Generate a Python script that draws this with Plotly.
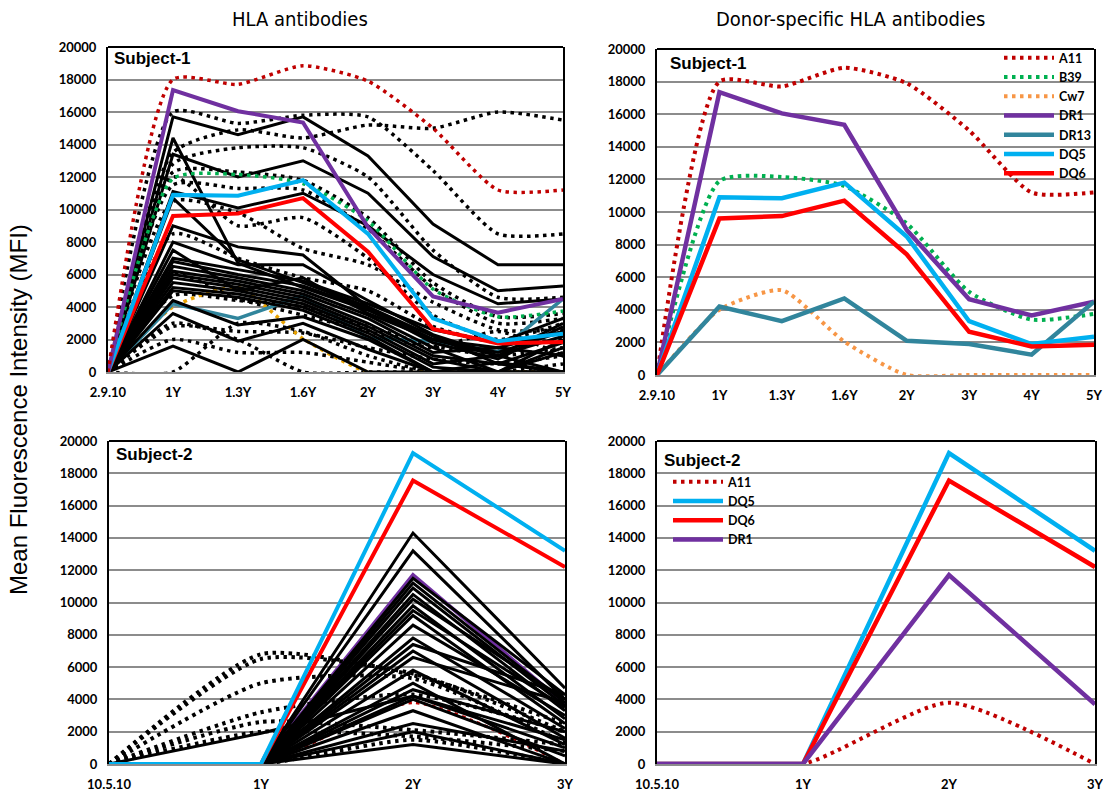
import plotly.graph_objects as go

W, H = 1103, 794


def px(x):
    return x / W


def py(y):
    return 1 - y / H


# ---------------- categories ----------------
CAT_S1 = ["2.9.10", "1Y", "1.3Y", "1.6Y", "2Y", "3Y", "4Y", "5Y"]
CAT_S2 = ["10.5.10", "1Y", "2Y", "3Y"]
Y_TICKS = [0, 2000, 4000, 6000, 8000, 10000, 12000, 14000, 16000, 18000, 20000]

# ---------------- Subject-1 donor-specific antibodies ----------------
S1_A11 = [0, 18000, 17700, 18850, 17900, 15000, 11200, 11200]
S1_B39 = [0, 11900, 12150, 11600, 9300, 5100, 3400, 3750]
S1_CW7 = [0, 4000, 5200, 2050, 0, 0, 0, 0]
S1_DR1 = [0, 17350, 16050, 15350, 8900, 4650, 3650, 4500]
S1_DR13 = [0, 4200, 3300, 4700, 2100, 1900, 1250, 4500]
S1_DQ5 = [0, 10900, 10850, 11800, 8500, 3300, 1900, 2350]
S1_DQ6 = [0, 9600, 9750, 10700, 7400, 2650, 1750, 1850]

# ---------------- Subject-1 other HLA antibodies (black) ----------------
S1_BLACK_SOLID = [
    [0, 15700, 14600, 15700, 13300, 9100, 6600, 6600],
    [0, 13400, 12000, 13000, 11000, 7100, 5000, 5300],
    [0, 11100, 10100, 11000, 9000, 6000, 4200, 4500],
    [0, 14400, 6700, 5200, 3800, 2000, 1200, 2500],
    [0, 10700, 6900, 5500, 4000, 2200, 500, 1800],
    [0, 9000, 7700, 7200, 4000, 2000, 1500, 2500],
    [0, 8000, 6600, 6600, 4400, 2300, 1000, 3000],
    [0, 7500, 5000, 5800, 3600, 2000, 1000, 2200],
    [0, 7000, 6300, 5600, 4200, 2600, 1800, 3300],
    [0, 6800, 6000, 5300, 3900, 1800, 800, 2800],
    [0, 6500, 5800, 5000, 3500, 1500, 0, 2000],
    [0, 6200, 5600, 4800, 3300, 1200, 1500, 1000],
    [0, 6000, 5400, 4600, 3000, 1000, 500, 0],
    [0, 5800, 5200, 4400, 2800, 800, 0, 1500],
    [0, 5500, 5000, 4200, 2600, 500, 1000, 0],
    [0, 5200, 4800, 4000, 2400, 300, 0, 1200],
    [0, 5000, 4600, 3800, 2200, 0, 600, 0],
    [0, 4400, 2900, 3400, 2000, 0, 0, 0],
    [0, 3600, 1900, 3000, 1400, 0, 0, 0],
    [0, 1600, 0, 2000, 0, 0, 0, 0],
]
S1_BLACK_DOTTED = [
    [0, 16000, 15300, 15800, 15700, 12400, 8500, 8500],
    [0, 13500, 14900, 14400, 15200, 15000, 16000, 15500],
    [0, 12800, 13800, 13800, 12000, 7500, 4600, 4600],
    [0, 12300, 12300, 11800, 9500, 5500, 3400, 3600],
    [0, 11500, 11300, 11200, 8800, 5200, 3000, 3300],
    [0, 10500, 9800, 7600, 6600, 4300, 2600, 2600],
    [0, 12000, 9000, 9500, 7000, 3500, 2000, 3000],
    [0, 8500, 7000, 5800, 5000, 2800, 1800, 2000],
    [0, 6000, 4500, 3500, 2500, 1500, 2500, 1000],
    [0, 4700, 4400, 4000, 2800, 1600, 1000, 1500],
    [0, 2800, 2500, 2400, 1500, 800, 500, 1000],
    [0, 2000, 1200, 1200, 600, 0, 0, 500],
    [0, 0, 3000, 2500, 1000, 0, 0, 0],
    [0, 3000, 2000, 0, 0, 0, 0, 0],
]

# ---------------- Subject-2 donor-specific antibodies ----------------
S2_A11 = [0, 0, 3800, 0]
S2_DQ5 = [0, 0, 19250, 13200]
S2_DQ6 = [0, 0, 17550, 12200]
S2_DR1 = [0, 0, 11700, 3700]

# ---------------- Subject-2 other HLA antibodies (black) ----------------
S2_BLACK_SOLID = [
    [0, 0, 14300, 4700],
    [0, 0, 13200, 4000],
    [0, 0, 11500, 4300],
    [0, 0, 11200, 3800],
    [0, 0, 10900, 3600],
    [0, 0, 10500, 3300],
    [0, 0, 10200, 4000],
    [0, 0, 9800, 2800],
    [0, 0, 9500, 3500],
    [0, 0, 9200, 2500],
    [0, 0, 8600, 3000],
    [0, 0, 7800, 2200],
    [0, 0, 7400, 4300],
    [0, 0, 7000, 1600],
    [0, 0, 6600, 3800],
    [0, 0, 5800, 1200],
    [0, 0, 5000, 0],
    [0, 0, 4600, 2000],
    [0, 0, 4200, 1500],
    [0, 0, 4000, 500],
    [0, 0, 3300, 0],
    [0, 0, 2500, 800],
    [0, 0, 2000, 0],
    [0, 0, 1200, 0],
    [0, 1900, 4200, 1000],
]
S2_BLACK_DOTTED = [
    [0, 6800, 5500, 2500],
    [0, 6500, 5600, 2000],
    [0, 5000, 5300, 1300],
    [0, 3200, 4300, 2000],
    [0, 2600, 2100, 1200],
    [0, 2000, 1700, 800],
    [0, 0, 1500, 0],
]

# ---------------- styles ----------------
C_A11 = "#C00000"
C_B39 = "#00B050"
C_CW7 = "#F79646"
C_CW7_L = "#E9A300"
C_DR1 = "#7030A0"
C_DR13 = "#31859C"
C_DQ5 = "#00B0F0"
C_DQ6 = "#FF0000"
DOT = "3.5px,4.5px"
TICKFONT = dict(family="Lato, Liberation Sans, sans-serif", size=13, color="black", weight="bold")
LEGFONT = dict(family="Lato, Liberation Sans, sans-serif", size=12.5, color="black", weight="bold")

fig = go.Figure()


def add(x, y, xa, ya, color, width, dotted=False, name=None, legend=None):
    fig.add_trace(go.Scatter(
        x=x, y=y, xaxis=xa, yaxis=ya, mode="lines", name=name,
        showlegend=legend is not None, legend=legend if legend else "legend",
        hoverinfo="skip",
        line=dict(color=color, width=width,
                  dash=DOT if dotted else "solid",
                  shape="spline" if dotted else "linear",
                  smoothing=0.6 if dotted else None),
    ))


# ----- top-left: all HLA antibodies, subject 1 -----
for s in S1_BLACK_DOTTED:
    add(CAT_S1, s, "x", "y", "black", 3.5, dotted=True)
add(CAT_S1, S1_CW7, "x", "y", C_CW7_L, 3.5, dotted=True)
add(CAT_S1, S1_DR13, "x", "y", C_DR13, 3.5)
for s in S1_BLACK_SOLID:
    add(CAT_S1, s, "x", "y", "black", 3)
add(CAT_S1, S1_B39, "x", "y", C_B39, 3.5, dotted=True)
add(CAT_S1, S1_DQ6, "x", "y", C_DQ6, 4)
add(CAT_S1, S1_DQ5, "x", "y", C_DQ5, 4)
add(CAT_S1, S1_DR1, "x", "y", C_DR1, 4)
add(CAT_S1, S1_A11, "x", "y", C_A11, 3.5, dotted=True)

# ----- top-right: DSA subject 1 -----
add(CAT_S1, S1_A11, "x2", "y2", C_A11, 4, dotted=True, name="A11", legend="legend")
add(CAT_S1, S1_B39, "x2", "y2", C_B39, 4, dotted=True, name="B39", legend="legend")
add(CAT_S1, S1_CW7, "x2", "y2", C_CW7, 4, dotted=True, name="Cw7", legend="legend")
add(CAT_S1, S1_DR1, "x2", "y2", C_DR1, 4.5, name="DR1", legend="legend")
add(CAT_S1, S1_DR13, "x2", "y2", C_DR13, 4.5, name="DR13", legend="legend")
add(CAT_S1, S1_DQ5, "x2", "y2", C_DQ5, 4.5, name="DQ5", legend="legend")
add(CAT_S1, S1_DQ6, "x2", "y2", C_DQ6, 4.5, name="DQ6", legend="legend")

# ----- bottom-left: all HLA antibodies, subject 2 -----
add(CAT_S2, S2_DR1, "x3", "y3", C_DR1, 4)
add(CAT_S2, S2_A11, "x3", "y3", C_A11, 3, dotted=True)
for s in S2_BLACK_SOLID:
    add(CAT_S2, s, "x3", "y3", "black", 3)
for s in S2_BLACK_DOTTED:
    add(CAT_S2, s, "x3", "y3", "black", 4, dotted=True)
add(CAT_S2, S2_DQ6, "x3", "y3", C_DQ6, 4)
add(CAT_S2, S2_DQ5, "x3", "y3", C_DQ5, 4)

# ----- bottom-right: DSA subject 2 -----
add(CAT_S2, S2_A11, "x4", "y4", C_A11, 4, dotted=True, name="A11", legend="legend2")
add(CAT_S2, S2_DQ5, "x4", "y4", C_DQ5, 4.5, name="DQ5", legend="legend2")
add(CAT_S2, S2_DQ6, "x4", "y4", C_DQ6, 4.5, name="DQ6", legend="legend2")
add(CAT_S2, S2_DR1, "x4", "y4", C_DR1, 4.5, name="DR1", legend="legend2")


def xax(domain, anchor, n):
    return dict(domain=domain, anchor=anchor, type="category", range=[0, n - 1],
                showgrid=False, zeroline=False, showline=True, linecolor="#8c8c8c",
                linewidth=1.5, ticks="", tickfont=TICKFONT, ticklabelstandoff=8,
                automargin=False, fixedrange=True)


def yax(domain, anchor):
    return dict(domain=domain, anchor=anchor, range=[0, 20000], tickvals=Y_TICKS,
                tickformat="d", showgrid=True, gridcolor="#8c8c8c", gridwidth=1.5,
                zeroline=False, showline=True, linecolor="black", linewidth=2,
                mirror=True, ticks="", tickfont=TICKFONT, ticklabelstandoff=7,
                automargin=False, fixedrange=True)


XD_L1 = [px(108), px(563)]
XD_R1 = [px(657), px(1094)]
XD_L2 = [px(109), px(565)]
XD_R2 = [px(657), px(1095)]
YD_L1 = [py(372), py(47)]
YD_R1 = [py(375), py(49)]
YD_2 = [py(764), py(441)]

shapes = []
# white panels behind the legends (above gridlines, below the data lines)
shapes.append(dict(type="rect", xref="paper", yref="paper", layer="between",
                   x0=px(996), x1=px(1093), y0=py(168), y1=py(50),
                   fillcolor="white", line=dict(width=0)))
shapes.append(dict(type="rect", xref="paper", yref="paper", layer="between",
                   x0=px(668), x1=px(760), y0=py(548), y1=py(468),
                   fillcolor="white", line=dict(width=0)))
for xr, yr in [("x", "y"), ("x2", "y2"), ("x3", "y3"), ("x4", "y4")]:
    shapes.append(dict(type="line", xref=xr + " domain", yref=yr + " domain",
                       x0=0, x1=1, y0=1, y1=1, line=dict(color="black", width=2)))

ann = []
TITLE_FONT = dict(family="Liberation Sans Narrow, Arial Narrow, DejaVu Sans Condensed, sans-serif",
                  size=20, color="black")
ann.append(dict(text="HLA antibodies", x=px(300), y=py(19), xref="paper", yref="paper",
                showarrow=False, font=TITLE_FONT, xanchor="center", yanchor="middle"))
ann.append(dict(text="Donor-specific HLA antibodies", x=px(850), y=py(19), xref="paper",
                yref="paper", showarrow=False, font=TITLE_FONT, xanchor="center",
                yanchor="middle"))
ann.append(dict(text="Mean Fluorescence Intensity (MFI)", x=px(19), y=py(410),
                xref="paper", yref="paper", showarrow=False, textangle=-90,
                font=dict(family="Liberation Sans, Arial, sans-serif", size=24, color="black"),
                xanchor="center", yanchor="middle"))
SUBJ_FONT = dict(family="Liberation Sans, Arial, sans-serif", size=17, color="black",
                 weight="bold")
for txt, x, y in [("Subject-1", 112, 59), ("Subject-1", 668, 64),
                  ("Subject-2", 114, 454), ("Subject-2", 662, 460)]:
    ann.append(dict(text=txt, x=px(x), y=py(y), xref="paper", yref="paper",
                    showarrow=False, font=SUBJ_FONT, xanchor="left", yanchor="middle"))

fig.update_layout(
    width=W, height=H, autosize=False,
    margin=dict(l=0, r=0, t=0, b=0, pad=0),
    paper_bgcolor="white", plot_bgcolor="white",
    xaxis=xax(XD_L1, "y", len(CAT_S1)),
    yaxis=yax(YD_L1, "x"),
    xaxis2=xax(XD_R1, "y2", len(CAT_S1)),
    yaxis2=yax(YD_R1, "x2"),
    xaxis3=xax(XD_L2, "y3", len(CAT_S2)),
    yaxis3=yax(YD_2, "x3"),
    xaxis4=xax(XD_R2, "y4", len(CAT_S2)),
    yaxis4=yax(YD_2, "x4"),
    shapes=shapes,
    annotations=ann,
    legend=dict(x=px(1097), y=py(43), xanchor="right", yanchor="top",
                bgcolor="rgba(255,255,255,0)",
                font=LEGFONT, itemwidth=50, tracegroupgap=0, borderwidth=0,
                itemclick=False, itemdoubleclick=False),
    legend2=dict(x=px(668), y=py(467), xanchor="left", yanchor="top",
                 bgcolor="rgba(255,255,255,0)",
                 font=LEGFONT, itemwidth=50, tracegroupgap=0, borderwidth=0,
                 itemclick=False, itemdoubleclick=False),
    showlegend=True,
)

fig.write_html("out.html", config={"displayModeBar": False},
               post_script="document.body.style.margin='0px';document.body.style.overflow='hidden';")
